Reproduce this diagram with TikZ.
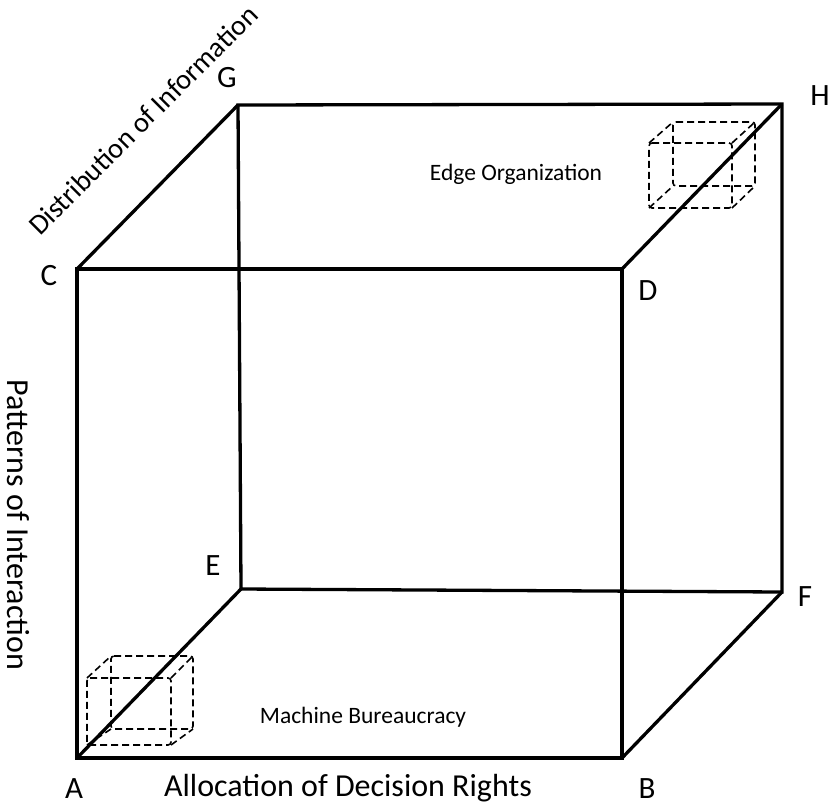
\documentclass[tikz,border=0pt]{standalone}
\usepackage{fontspec}
\setmainfont{Carlito}
\begin{document}
\begin{tikzpicture}[x=1pt,y=-1pt,
  edge/.style={line width=3.3pt,line join=miter},
  small/.style={line width=1.6pt,dash pattern=on 7pt off 4pt,rounded corners=3pt},
  corner/.style={font=\fontsize{31}{31}\selectfont,inner sep=0pt},
  axis/.style={font=\fontsize{32}{32}\selectfont,inner sep=0pt},
  region/.style={font=\fontsize{23.5}{24}\selectfont,inner sep=0pt}]
\useasboundingbox (0,0) rectangle (830,807);
% corners
\coordinate (A) at (77,758);
\coordinate (B) at (622,758);
\coordinate (C) at (77,269);
\coordinate (D) at (622,269);
\coordinate (E) at (241,589);
\coordinate (F) at (782,592);
\coordinate (G) at (238,105);
\coordinate (H) at (782,104);
% edges
\draw[edge] (A) -- (B) -- (D) -- (C) -- cycle;
\draw[edge] (E) -- (F) -- (H) -- (G) -- cycle;
\draw[edge] (A) -- (E);
\draw[edge] (B) -- (F);
\draw[edge] (C) -- (G);
\draw[edge] (D) -- (H);
% small cube top-right
\coordinate (t1) at (649,143); \coordinate (t2) at (732,143);
\coordinate (t3) at (732,208); \coordinate (t4) at (649,208);
\coordinate (t5) at (673,122); \coordinate (t6) at (755,122);
\coordinate (t7) at (755,186); \coordinate (t8) at (673,186);
\draw[small] (t1) -- (t2) -- (t3) -- (t4) -- cycle;
\draw[small] (t5) -- (t6) -- (t7) -- (t8) -- cycle;
\draw[small] (t1) -- (t5); \draw[small] (t2) -- (t6);
\draw[small] (t3) -- (t7); \draw[small] (t4) -- (t8);
% small cube bottom-left
\coordinate (b1) at (87,678); \coordinate (b2) at (171,678);
\coordinate (b3) at (171,745); \coordinate (b4) at (87,745);
\coordinate (b5) at (111,656); \coordinate (b6) at (193,656);
\coordinate (b7) at (193,729); \coordinate (b8) at (111,729);
\draw[small] (b1) -- (b2) -- (b3) -- (b4) -- cycle;
\draw[small] (b5) -- (b6) -- (b7) -- (b8) -- cycle;
\draw[small] (b1) -- (b5); \draw[small] (b2) -- (b6);
\draw[small] (b3) -- (b7); \draw[small] (b4) -- (b8);
% corner labels
\node[corner] (lA) at (74,789) {A};
\node[corner] (lB) at (647,789) {B};
\node[corner] (lC) at (49,276) {C};
\node[corner] (lD) at (648,291) {D};
\node[corner] (lE) at (213,566) {E};
\node[corner] (lF) at (805,597) {F};
\node[corner] (lG) at (227,78) {G};
\node[corner] (lH) at (820,96) {H};
% axis labels
\node[axis] (ax1) at (348,788) {Allocation of Decision Rights};
\node[axis,rotate=-90] (ax2) at (18,525) {Patterns of Interaction};
\node[axis,rotate=45,font=\fontsize{28.5}{28.5}\selectfont] (ax3) at (143,120) {Distribution of Information};
% region labels
\node[region] (r1) at (516,174) {Edge Organization};
\node[region] (r2) at (363,717) {Machine Bureaucracy};
\end{tikzpicture}
\end{document}
